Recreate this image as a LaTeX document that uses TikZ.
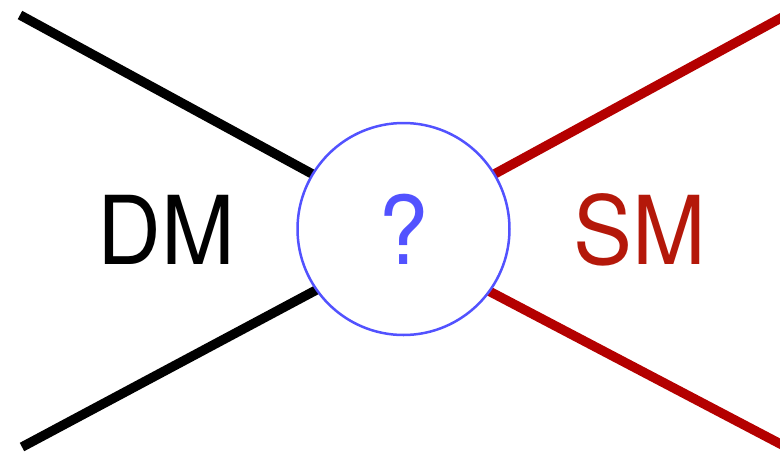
\documentclass[tikz,border=0pt]{standalone}
\usepackage{fontspec}
\setmainfont{TeX Gyre Heros}
\definecolor{smred}{RGB}{180,0,0}
\definecolor{smtext}{RGB}{180,24,10}
\definecolor{qblue}{RGB}{82,82,255}
\begin{document}
\begin{tikzpicture}[x=1pt,y=-1pt,
  leg/.style={line width=9.5pt},
  big/.style={font=\fontsize{95}{95}\selectfont, inner sep=0pt, anchor=base}]
\useasboundingbox (0,0) rectangle (780,456);
\coordinate (c) at (403.5,229);
\coordinate (dmA) at (20,15);
\coordinate (dmAi) at (316,176);
\coordinate (dmB) at (22,447);
\coordinate (dmBi) at (320,288);
\coordinate (smA) at (790,13);
\coordinate (smAi) at (489,177);
\coordinate (smB) at (790,449);
\coordinate (smBi) at (485,289);
\draw[leg] (dmA) -- (dmAi);
\draw[leg] (dmB) -- (dmBi);
\draw[leg,smred] (smA) -- (smAi);
\draw[leg,smred] (smB) -- (smBi);
\node[circle, draw=qblue, fill=white, line width=2.5pt, minimum size=212pt, inner sep=0pt] (blob) at (c) {};
\node[big, text=qblue] (q) at (403.5,264) {\scalebox{0.95}[1]{?}};
\node[big] (dm) at (166,264) {\scalebox{0.93}[1]{DM}};
\node[big, text=smtext] (sm) at (640,264) {\scalebox{0.93}[1]{SM}};
\end{tikzpicture}
\end{document}
